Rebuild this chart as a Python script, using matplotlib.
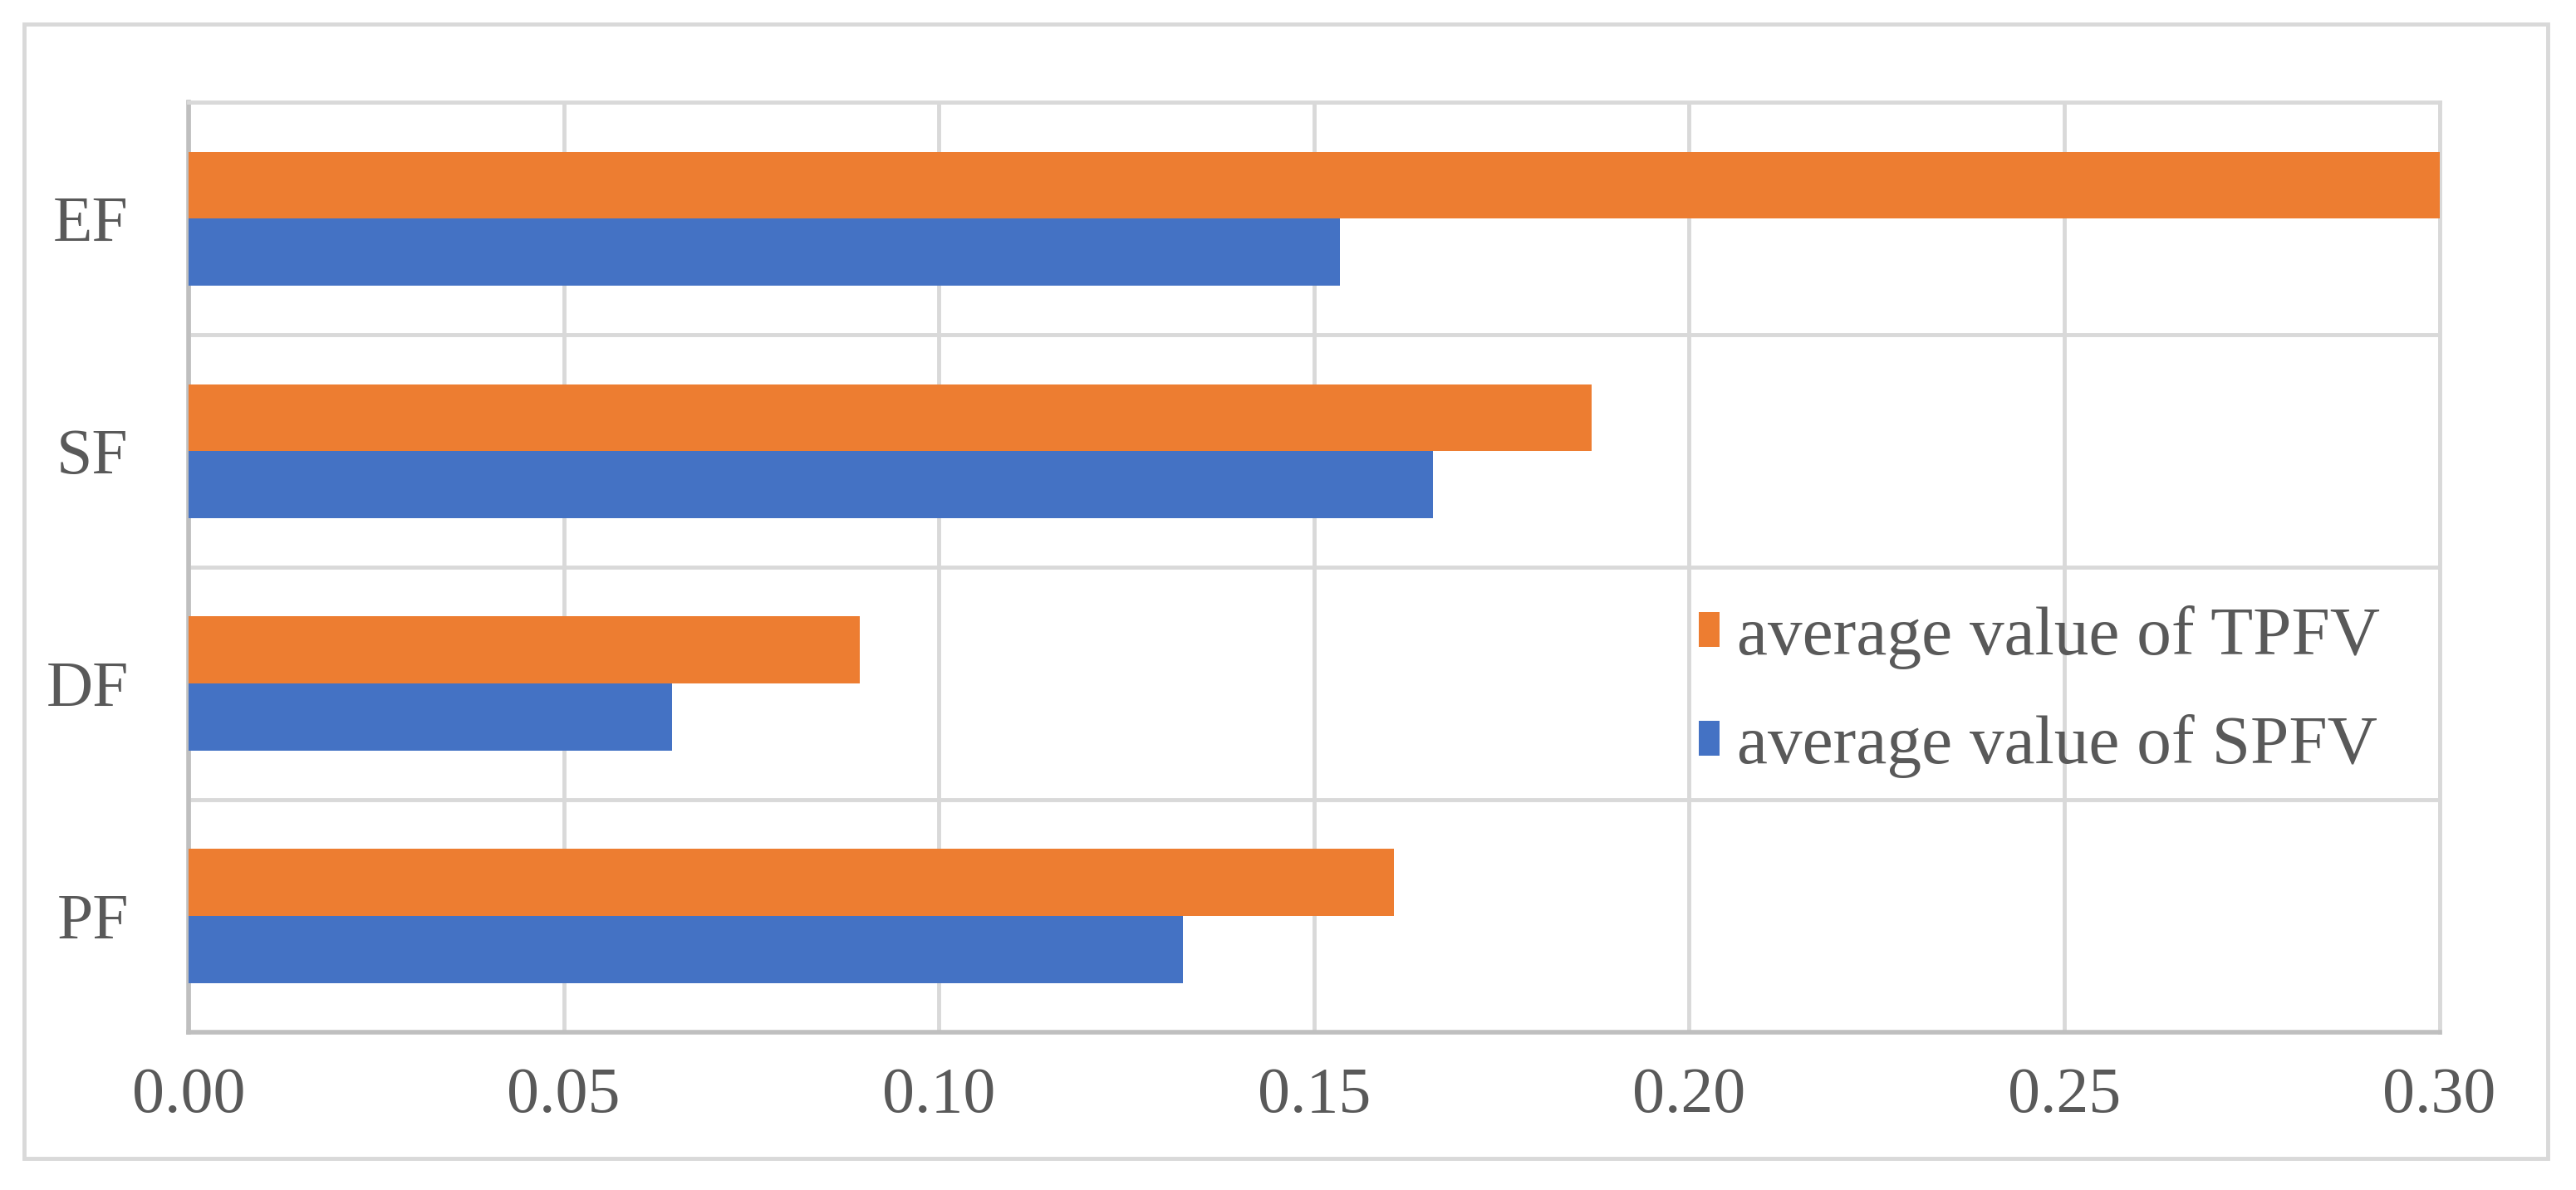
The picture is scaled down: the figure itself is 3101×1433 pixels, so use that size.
# ==========================
# Average TPFV / SPFV by factor
# horizontal grouped bar chart
# ==========================

import matplotlib
matplotlib.use("Agg")
import matplotlib.pyplot as plt
from matplotlib.patches import Rectangle
import numpy as np

# ==========================
# Data
# ==========================

categories = ["PF", "DF", "SF", "EF"]
tpfv_values = [0.1606, 0.0895, 0.1870, 0.3000]
spfv_values = [0.1325, 0.0644, 0.1659, 0.1535]
series_labels = ["average value of TPFV", "average value of SPFV"]
x_ticks = [0.00, 0.05, 0.10, 0.15, 0.20, 0.25, 0.30]

# ==========================
# Style
# ==========================

orange = "#ED7D31"
blue = "#4472C4"
text_color = "#595959"
grid_color = "#D9D9D9"
axis_color = "#BFBFBF"

plt.rcParams["font.family"] = ["Liberation Serif", "DejaVu Serif"]
tick_size = 56
legend_size = 60

# ==========================
# Figure
# ==========================

fig = plt.figure(figsize=(31.01, 14.33), dpi=100)
ax = fig.add_axes([0.0732, 0.1326, 0.947 - 0.0732, 0.914 - 0.1326])

# outer chart border
fig.patches.append(Rectangle((0.0094, 0.0265), 0.989 - 0.0094, 0.98 - 0.0265,
                             transform=fig.transFigure, fill=False,
                             edgecolor=grid_color, linewidth=3.5))

y = np.arange(len(categories))
bar_h = 0.288

ax.barh(y + bar_h / 2, tpfv_values, height=bar_h, color=orange,
        label=series_labels[0], zorder=3)
ax.barh(y - bar_h / 2, spfv_values, height=bar_h, color=blue,
        label=series_labels[1], zorder=3)

ax.set_xlim(0, 0.30)
ax.set_ylim(-0.5, len(categories) - 0.5)

ax.set_xticks(x_ticks)
ax.set_xticklabels([f"{t:.2f}" for t in x_ticks])
ax.set_yticks(y)
ax.set_yticklabels(categories)
ax.set_yticks(np.arange(len(categories) + 1) - 0.5, minor=True)

ax.tick_params(axis="x", length=0, pad=30, labelsize=tick_size, labelcolor=text_color)
ax.tick_params(axis="y", length=0, pad=52, labelsize=tick_size, labelcolor=text_color)
ax.tick_params(axis="y", which="minor", length=0)

ax.grid(axis="x", which="major", color=grid_color, linewidth=3.5, zorder=0)
ax.grid(axis="y", which="minor", color=grid_color, linewidth=3.5, zorder=0)
ax.set_axisbelow(True)

for side in ["top", "right"]:
    ax.spines[side].set_color(grid_color)
    ax.spines[side].set_linewidth(3.5)
for side in ["left", "bottom"]:
    ax.spines[side].set_color(axis_color)
    ax.spines[side].set_linewidth(4)

# ==========================
# Legend
# ==========================

leg = ax.legend(loc="center left", bbox_to_anchor=(0.671, 0.366),
                frameon=False, fontsize=legend_size, handlelength=0.3,
                handleheight=0.4, handletextpad=0.25, labelspacing=0.65,
                borderpad=0, borderaxespad=0)
for t in leg.get_texts():
    t.set_color(text_color)

fig.savefig("out.png", dpi=100, facecolor="white")
